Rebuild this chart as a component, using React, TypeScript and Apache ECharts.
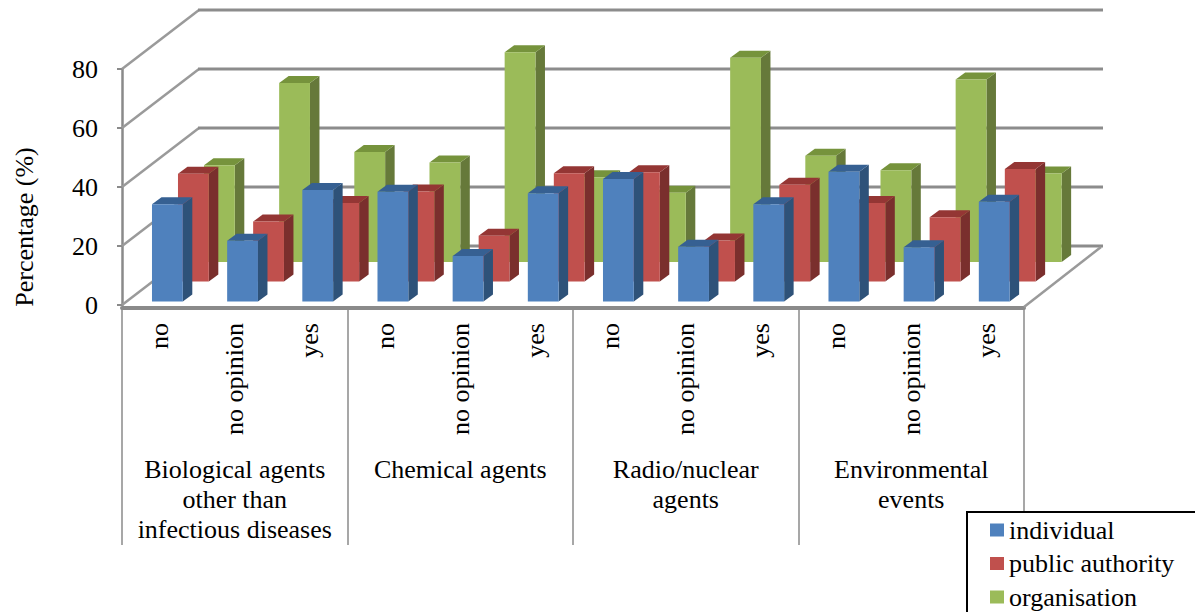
import React, { useEffect, useRef } from "react";
import * as echarts from "echarts";

const responses = ["no", "no opinion", "yes", "no", "no opinion", "yes", "no", "no opinion", "yes", "no", "no opinion", "yes"];
const groups = ["Biological agents\nother than\ninfectious diseases", "Chemical agents", "Radio/nuclear\nagents", "Environmental\nevents"];
const yTicks = [0, 20, 40, 60, 80];
const individual = [33, 20.6, 37.8, 37.2, 15.4, 36.7, 41.5, 18.6, 33, 44, 18.4, 33.8];
const publicAuthority = [36.5, 20.3, 26.6, 30.5, 15.5, 36.7, 37, 13.9, 32.8, 26.6, 21.8, 38.1];
const organisation = [32.8, 60.7, 37.3, 33.7, 71.1, 28.7, 23.5, 69.2, 36, 31.1, 61.9, 30];

const FONT = "Liberation Serif";

function barSeries(name: string, values: number[], front: string, top: string, side: string, dx: number, dy: number) {
  return {
    type: "custom",
    name,
    itemStyle: { color: front },
    data: values.map((v, i) => [i, v]),
    encode: { x: 0, y: 1 },
    renderItem: (_p: any, api: any) => {
      const cat = api.value(0);
      const t = api.coord([cat, api.value(1)]);
      const b = api.coord([cat, 0]);
      const w = api.size([1, 0])[0] * 0.41;
      const x0 = t[0] + dx;
      const x1 = x0 + w;
      const yt = t[1] + dy;
      const yb = b[1] + dy;
      const ox = 9.5;
      const oy = -7;
      return {
        type: "group",
        children: [
          { type: "polygon", shape: { points: [[x1, yt], [x1 + ox, yt + oy], [x1 + ox, yb + oy], [x1, yb]] }, style: { fill: side } },
          { type: "polygon", shape: { points: [[x0, yt], [x0 + ox, yt + oy], [x1 + ox, yt + oy], [x1, yt]] }, style: { fill: top } },
          { type: "rect", shape: { x: x0, y: yt, width: w, height: yb - yt }, style: { fill: front } },
        ],
      };
    },
  };
}

const wallSeries = {
  type: "custom",
  name: "walls",
  silent: true,
  data: yTicks.map((v) => [0, v]),
  encode: { x: 0, y: 1 },
  renderItem: (p: any, api: any) => {
    const v = api.value(1);
    const y = api.coord([0, v])[1];
    const left = p.coordSys.x;
    const right = left + p.coordSys.width;
    const dx = 77;
    const dy = -59;
    const diag = { stroke: "#9a9a9a", lineWidth: 2.5, fill: "none" };
    const back = { stroke: "#8c8c8c", lineWidth: 3, fill: "none" };
    const children: any[] = [
      { type: "line", shape: { x1: left, y1: y, x2: left + dx, y2: y + dy }, style: diag },
      { type: "line", shape: { x1: left + dx - 1, y1: y + dy, x2: right + dx + 2, y2: y + dy }, style: back },
    ];
    if (v === 0) {
      children.push({ type: "line", shape: { x1: right, y1: y + 2, x2: right + dx, y2: y + dy + 1 }, style: diag });
    }
    return { type: "group", children };
  },
};

export default function App() {
  const ref = useRef<HTMLDivElement>(null);
  useEffect(() => {
    document.body.style.margin = "0";
    document.body.style.overflow = "hidden";
    const chart = echarts.init(ref.current!, undefined, { renderer: "svg" });
    chart.setOption({
      animation: false,
      backgroundColor: "#fff",
      textStyle: { fontFamily: FONT, color: "#000" },
      grid: { left: 122, top: 69, width: 902, height: 236 },
      graphic: [
        {
          type: "text",
          x: 24,
          y: 227,
          rotation: Math.PI / 2,
          style: { text: "Percentage (%)", font: `26px "${FONT}"`, fill: "#000", align: "center", verticalAlign: "middle" },
        },
      ],
      legend: {
        data: ["individual", "public authority", "organisation"],
        orient: "vertical",
        left: 967,
        top: 512,
        height: 96,
        padding: [5, 30, 20, 23],
        backgroundColor: "#fff",
        borderColor: "#000",
        borderWidth: 2,
        borderRadius: 0,
        icon: "rect",
        itemWidth: 14,
        itemHeight: 13,
        itemGap: 7.5,
        selectedMode: false,
        z: 20,
        textStyle: { fontFamily: FONT, fontSize: 26, lineHeight: 26, color: "#000", padding: 0 },
      },
      xAxis: [
        {
          type: "category",
          data: responses,
          axisLine: { show: false },
          axisTick: { show: false },
          axisLabel: { rotate: 90, margin: 18, interval: 0, fontFamily: FONT, fontSize: 26, color: "#000" },
        },
        {
          type: "category",
          position: "bottom",
          offset: 3,
          data: groups,
          axisLine: { show: true, lineStyle: { color: "#8a8a8a", width: 4 } },
          axisTick: { show: true, length: 237, lineStyle: { color: "#8a8a8a", width: 1.5 } },
          axisLabel: { margin: 146, interval: 0, fontFamily: FONT, fontSize: 26, lineHeight: 30, color: "#000" },
        },
      ],
      yAxis: {
        type: "value",
        min: 0,
        max: 80,
        interval: 20,
        splitLine: { show: false },
        axisLine: { show: true, lineStyle: { color: "#8a8a8a", width: 2.5 } },
        axisTick: { show: true, length: 5, lineStyle: { color: "#8a8a8a", width: 2 } },
        axisLabel: { margin: 24, fontFamily: FONT, fontSize: 26, color: "#000" },
      },
      series: [
        wallSeries,
        barSeries("organisation", organisation, "#9BBB59", "#76933C", "#66793A", 44.4, -43),
        barSeries("public authority", publicAuthority, "#C0504D", "#943634", "#7A2F2D", 18.4, -23.5),
        barSeries("individual", individual, "#4F81BD", "#366092", "#2E5279", -7.6, -3.5),
      ],
    });
    return () => chart.dispose();
  }, []);
  return <div ref={ref} style={{ width: 1195, height: 612 }} />;
}
